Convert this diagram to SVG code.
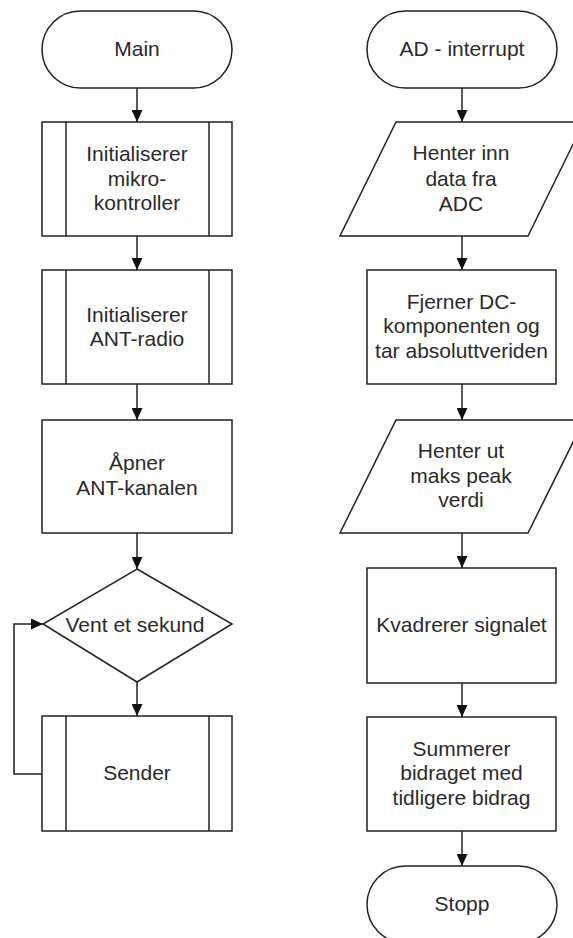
<svg xmlns="http://www.w3.org/2000/svg" width="573" height="938" viewBox="0 0 573 938">
<defs>
<style>
.s{fill:#fff;stroke:#222;stroke-width:1.5}
.l{fill:none;stroke:#222;stroke-width:1.5}
text{font-family:"Liberation Sans",Arial,sans-serif;font-size:21px;fill:#2a2a2a;text-anchor:middle}
</style>
<marker id="ah" markerUnits="userSpaceOnUse" markerWidth="12" markerHeight="11" refX="12" refY="5.5" orient="auto">
<path d="M0,0 L12,5.5 L0,11 z" fill="#111"/>
</marker>
</defs>
<rect width="573" height="938" fill="#fff"/>
<g id="connectors">
<line class="l" x1="137" y1="88" x2="137" y2="122" marker-end="url(#ah)"/>
<line class="l" x1="137" y1="236" x2="137" y2="270" marker-end="url(#ah)"/>
<line class="l" x1="137" y1="384" x2="137" y2="420" marker-end="url(#ah)"/>
<line class="l" x1="137" y1="533" x2="137" y2="569" marker-end="url(#ah)"/>
<line class="l" x1="137" y1="682" x2="137" y2="716" marker-end="url(#ah)"/>
<polyline class="l" points="42,774 14,774 14,624 43,624" marker-end="url(#ah)"/>
<line class="l" x1="462" y1="88" x2="462" y2="122" marker-end="url(#ah)"/>
<line class="l" x1="462" y1="236" x2="462" y2="270" marker-end="url(#ah)"/>
<line class="l" x1="462" y1="384" x2="462" y2="420" marker-end="url(#ah)"/>
<line class="l" x1="462" y1="533" x2="462" y2="568" marker-end="url(#ah)"/>
<line class="l" x1="462" y1="683" x2="462" y2="717" marker-end="url(#ah)"/>
<line class="l" x1="462" y1="831" x2="462" y2="866" marker-end="url(#ah)"/>
</g>
<g id="main">
<rect class="s" x="42" y="11" width="190" height="77" rx="38.5"/>
<text x="137" y="56">Main</text>
</g>
<g id="init-mcu">
<rect class="s" x="42" y="122" width="190" height="114"/>
<line class="l" x1="66" y1="122" x2="66" y2="236"/>
<line class="l" x1="209" y1="122" x2="209" y2="236"/>
<text x="137" y="161">Initialiserer</text>
<text x="137" y="185.5">mikro-</text>
<text x="137" y="210">kontroller</text>
</g>
<g id="init-ant">
<rect class="s" x="42" y="270" width="190" height="114"/>
<line class="l" x1="66" y1="270" x2="66" y2="384"/>
<line class="l" x1="209" y1="270" x2="209" y2="384"/>
<text x="137" y="321.5">Initialiserer</text>
<text x="137" y="346">ANT-radio</text>
</g>
<g id="open-ant">
<rect class="s" x="42" y="420" width="190" height="113"/>
<text x="137" y="470">Åpner</text>
<text x="137" y="495">ANT-kanalen</text>
</g>
<g id="wait">
<polygon class="s" points="137,569 232,624 137,682 43,624"/>
<text x="135" y="631.5">Vent et sekund</text>
</g>
<g id="sender">
<rect class="s" x="42" y="716" width="190" height="115"/>
<line class="l" x1="66" y1="716" x2="66" y2="831"/>
<line class="l" x1="209" y1="716" x2="209" y2="831"/>
<text x="137" y="780">Sender</text>
</g>
<g id="ad-interrupt">
<rect class="s" x="367" y="11" width="190" height="77" rx="38.5"/>
<text x="462" y="56">AD - interrupt</text>
</g>
<g id="read-adc">
<polygon class="s" points="396,122 584,122 528,236 340,236"/>
<text x="461" y="160">Henter inn</text>
<text x="461" y="186">data fra</text>
<text x="461" y="210.5">ADC</text>
</g>
<g id="remove-dc">
<rect class="s" x="367" y="270" width="189" height="114"/>
<text x="461.5" y="308.5">Fjerner DC-</text>
<text x="461.5" y="333">komponenten og</text>
<text x="461.5" y="358">tar absoluttveriden</text>
</g>
<g id="max-peak">
<polygon class="s" points="396,420 584,420 528,533 340,533"/>
<text x="461" y="458">Henter ut</text>
<text x="461" y="482.5">maks peak</text>
<text x="461" y="507">verdi</text>
</g>
<g id="square">
<rect class="s" x="367" y="568" width="189" height="115"/>
<text x="461.5" y="632">Kvadrerer signalet</text>
</g>
<g id="sum">
<rect class="s" x="367" y="717" width="189" height="114"/>
<text x="461.5" y="755.5">Summerer</text>
<text x="461.5" y="780">bidraget med</text>
<text x="461.5" y="805">tidligere bidrag</text>
</g>
<g id="stop">
<rect class="s" x="367" y="866" width="190" height="77" rx="38.5"/>
<text x="462" y="911">Stopp</text>
</g>
</svg>
